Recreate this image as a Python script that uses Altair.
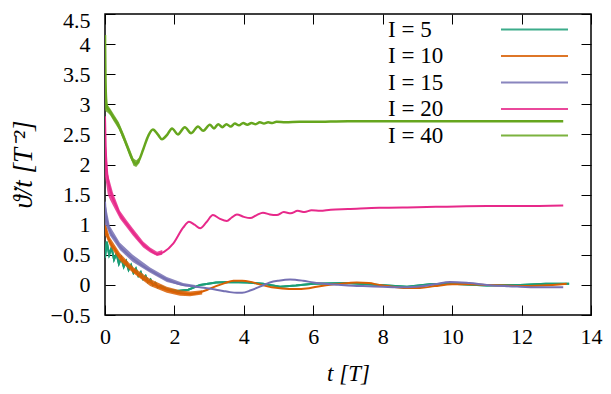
import altair as alt
import pandas as pd

series = ["I = 5", "I = 10", "I = 15", "I = 20", "I = 40"]
colors = ["#1b9e77", "#d95f02", "#7570b3", "#e7298a", "#66a61e"]

x_ticks = [0, 2, 4, 6, 8, 10, 12, 14]
y_ticks = [-0.5, 0, 0.5, 1, 1.5, 2, 2.5, 3, 3.5, 4, 4.5]

# I = 5
t5 = [0.0, 0.05, 0.12, 0.19, 0.26, 0.33, 0.40, 0.47, 0.54, 0.61, 0.68, 0.75, 0.82, 0.89,
      0.96, 1.03, 1.10, 1.17, 1.24, 1.31, 1.38, 1.45, 1.52, 1.6, 1.78, 2.07, 2.4, 2.74,
      3.2, 3.6, 4.1, 4.55, 5.04, 5.5, 6.0, 6.97, 7.9, 8.7, 9.36, 10.0, 11.0, 11.96, 12.7, 13.37]
v5 = [0.45, 0.72, 0.5, 0.62, 0.42, 0.52, 0.35, 0.45, 0.3, 0.39, 0.25, 0.33, 0.2, 0.27,
      0.15, 0.21, 0.1, 0.15, 0.05, 0.09, 0.0, 0.03, -0.04, -0.02, -0.07, -0.1, -0.08, 0.0,
      0.04, 0.05, 0.04, 0.02, -0.03, -0.01, 0.02, 0.03, 0.0, -0.03, 0.01, 0.02, -0.01, 0.0, 0.02, 0.02]

# I = 10
t10 = [0, 0.03, 0.14, 0.3, 0.43, 0.6, 0.8, 1.05, 1.3, 1.55, 1.78, 2.0, 2.2, 2.45, 2.7, 2.95,
       3.2, 3.45, 3.7, 3.95, 4.2, 4.5, 4.8, 5.1, 5.5, 5.8, 6.1, 6.6, 7.0, 7.25, 7.6, 7.9, 8.3,
       8.6, 9.07, 9.5, 10.0, 10.5, 11.0, 11.5, 11.96, 12.6, 13.3]
v10 = [1.0, 0.9, 0.72, 0.58, 0.47, 0.37, 0.25, 0.13, 0.04, -0.03, -0.08, -0.12, -0.14, -0.15,
       -0.13, -0.08, -0.02, 0.03, 0.07, 0.07, 0.05, 0.0, -0.04, -0.06, -0.07, -0.06, -0.03,
       0.01, 0.03, 0.04, 0.03, 0.0, -0.03, -0.05, -0.05, -0.02, 0.01, 0.01, 0.0, -0.01, -0.02,
       -0.01, 0.02]
b10_t = [0.0, 0.03, 0.14, 0.43, 0.8, 1.3, 1.78, 2.16, 2.45, 2.8]
b10_lo = [0.82, 0.8, 0.65, 0.4, 0.2, -0.02, -0.13, -0.18, -0.19, -0.16]
b10_hi = [1.05, 1.0, 0.79, 0.53, 0.3, 0.1, -0.03, -0.09, -0.11, -0.09]

# I = 15
t15 = [0, 0.03, 0.14, 0.3, 0.43, 0.6, 0.8, 1.05, 1.3, 1.55, 1.78, 2.0, 2.25, 2.5, 2.74, 3.0,
       3.2, 3.4, 3.6, 3.8, 3.95, 4.2, 4.5, 4.75, 5.0, 5.33, 5.7, 6.0, 6.48, 7.0, 7.43, 8.0,
       8.4, 8.98, 9.5, 9.94, 10.5, 11.0, 11.5, 11.96, 12.6, 13.2]
v15 = [1.38, 1.15, 0.9, 0.76, 0.64, 0.54, 0.44, 0.33, 0.24, 0.16, 0.09, 0.04, 0.0, -0.02,
       -0.04, -0.06, -0.08, -0.1, -0.12, -0.13, -0.13, -0.09, -0.02, 0.04, 0.07, 0.09, 0.07,
       0.04, 0.01, -0.01, -0.02, -0.03, -0.04, -0.03, 0.01, 0.05, 0.03, 0.0, -0.02, -0.03,
       -0.04, -0.04]
b15_t = [0.0, 0.03, 0.14, 0.43, 0.8, 1.3, 1.78, 2.25, 2.6]
b15_lo = [1.0, 0.98, 0.82, 0.58, 0.38, 0.2, 0.05, -0.02, -0.04]
b15_hi = [1.42, 1.3, 0.98, 0.7, 0.5, 0.29, 0.13, 0.03, 0.0]

# I = 20
t20 = [0, 0.02, 0.05, 0.1, 0.15, 0.23, 0.33, 0.43, 0.63, 0.8, 1.1, 1.3, 1.5, 1.7, 1.97, 2.25,
       2.42, 2.58, 2.74, 2.92, 3.11, 3.3, 3.51, 3.65, 3.8, 4.0, 4.18, 4.37, 4.55, 4.75, 4.95,
       5.15, 5.35, 5.55, 5.75, 5.95, 6.2, 6.5, 7.0, 7.9, 9.0, 9.85, 11.0, 12.0, 13.2]
v20 = [2.8, 2.3, 1.95, 1.7, 1.58, 1.43, 1.3, 1.17, 1.01, 0.88, 0.67, 0.58, 0.51, 0.55, 0.69,
       0.95, 1.05, 1.0, 0.94, 1.04, 1.16, 1.1, 1.06, 1.12, 1.17, 1.13, 1.11, 1.16, 1.2, 1.17,
       1.16, 1.21, 1.19, 1.23, 1.21, 1.24, 1.23, 1.25, 1.26, 1.28, 1.29, 1.3, 1.31, 1.31, 1.32]
b20_t = [0.0, 0.03, 0.08, 0.14, 0.23, 0.43, 0.63, 0.8, 1.1, 1.3, 1.5, 1.65]
b20_lo = [1.8, 1.7, 1.5, 1.42, 1.32, 1.1, 0.95, 0.82, 0.62, 0.54, 0.48, 0.5]
b20_hi = [2.8, 2.3, 1.85, 1.72, 1.53, 1.23, 1.07, 0.94, 0.72, 0.62, 0.55, 0.58]

# I = 40
t40 = [0, 0.01, 0.03, 0.06, 0.12, 0.2, 0.35, 0.5, 0.65, 0.8, 0.88, 0.97, 1.1, 1.25, 1.38,
       1.52, 1.64, 1.8, 1.93, 2.1, 2.3, 2.48, 2.68, 2.83, 3.02, 3.14, 3.26, 3.38, 3.5, 3.62,
       3.74, 3.86, 3.98, 4.1, 4.22, 4.34, 4.46, 4.58, 4.7, 4.82, 4.94, 5.2, 5.6, 6.0, 7.0,
       8.0, 9.0, 10.0, 11.0, 12.0, 13.2]
v40 = [4.15, 3.6, 3.1, 2.95, 2.9, 2.82, 2.69, 2.5, 2.28, 2.07, 2.01, 2.06, 2.25, 2.48, 2.58,
       2.5, 2.42, 2.5, 2.6, 2.5, 2.62, 2.52, 2.63, 2.56, 2.66, 2.6, 2.67, 2.62, 2.67, 2.63,
       2.68, 2.65, 2.69, 2.66, 2.69, 2.67, 2.7, 2.68, 2.7, 2.69, 2.71, 2.7, 2.71, 2.71, 2.72,
       2.72, 2.72, 2.72, 2.72, 2.72, 2.72]
b40_t = [0.0, 0.03, 0.08, 0.15, 0.25, 0.4, 0.55, 0.7, 0.82, 0.9, 1.0]
b40_lo = [2.9, 2.88, 2.86, 2.82, 2.72, 2.58, 2.38, 2.16, 1.98, 1.96, 2.03]
b40_hi = [3.3, 3.05, 2.99, 2.93, 2.84, 2.7, 2.5, 2.28, 2.1, 2.07, 2.12]

lines = {
    "I = 5": (t5, v5),
    "I = 10": (t10, v10),
    "I = 15": (t15, v15),
    "I = 20": (t20, v20),
    "I = 40": (t40, v40),
}
bands = {
    "I = 10": (b10_t, b10_lo, b10_hi),
    "I = 15": (b15_t, b15_lo, b15_hi),
    "I = 20": (b20_t, b20_lo, b20_hi),
    "I = 40": (b40_t, b40_lo, b40_hi),
}

FONT = "Liberation Serif"
x_scale = alt.Scale(domain=[0, 14], nice=False, zero=False)
y_scale = alt.Scale(domain=[-0.5, 4.5], nice=False, zero=False)

color_enc = alt.Color(
    "series:N",
    sort=series,
    scale=alt.Scale(domain=series, range=colors),
    legend=alt.Legend(
        title=None, orient="none", legendX=417, legendY=3, padding=0,
        symbolType="M-3,0H3", symbolSize=499, symbolStrokeWidth=2,
        labelOffset={"expr": "-159"}, labelAlign="left", labelFont=FONT, labelFontSize=23,
        labelColor="black", rowPadding=1.5, labelLimit=0,
    ),
)

axis_common = dict(offset=-10, tickSize=10, domain=False, grid=False, tickColor="black",
                   tickWidth=1, labelFont=FONT, labelFontSize=22, labelColor="black",
                   labelFlush=False, labelOverlap=False)

x_axis_main = alt.Axis(values=x_ticks, orient="bottom", labelPadding=11, format="d",
                       title="t [T]", titleFont=FONT, titleFontSize=23, titleFontWeight="normal",
                       titleFontStyle="italic", titleColor="black", titleX=243, titleY=68,
                       titleAlign="center", titleBaseline="middle", **axis_common)
y_axis_main = alt.Axis(values=y_ticks, orient="left", labelPadding=15, format="~g",
                       labelOffset={"condition": {"test": "datum.value == 4.5", "value": 6},
                                    "value": 0},
                       title="ϑ̇/t [T⁻²]", titleFont=FONT, titleFontSize=27,
                       titleFontWeight="normal", titleFontStyle="italic", titleColor="black",
                       titleX=-92, titleY=150, titleAngle=270, titleAlign="center",
                       titleBaseline="middle", **axis_common)
x_axis_top = alt.Axis(values=x_ticks, orient="top", labels=False, title=None, **axis_common)
y_axis_right = alt.Axis(values=y_ticks, orient="right", labels=False, title=None, **axis_common)

layers = []
first = True
for name in series:
    if name in bands:
        bt, blo, bhi = bands[name]
        bdf = pd.DataFrame({"t": bt, "lo": blo, "hi": bhi, "series": name})
        layers.append(
            alt.Chart(bdf).mark_area(opacity=0.85, clip=True).encode(
                x=alt.X("t:Q", scale=x_scale, axis=None),
                y=alt.Y("lo:Q", scale=y_scale, axis=None),
                y2="hi:Q",
                color=color_enc,
            )
        )
    lt, lv = lines[name]
    ldf = pd.DataFrame({"t": lt, "v": lv, "series": name})
    interp = "linear" if name == "I = 5" else "monotone"
    sw = 2.5 if name == "I = 40" else 2
    if first:
        xa, ya = x_axis_main, y_axis_main
    else:
        xa, ya = None, None
    layers.append(
        alt.Chart(ldf).mark_line(strokeWidth=sw, clip=True, interpolate=interp).encode(
            x=alt.X("t:Q", scale=x_scale, axis=xa),
            y=alt.Y("v:Q", scale=y_scale, axis=ya),
            color=color_enc,
        )
    )
    if first:
        layers.append(
            alt.Chart(ldf).mark_line(strokeWidth=2, clip=True).encode(
                x=alt.X("t:Q", scale=x_scale, axis=x_axis_top),
                y=alt.Y("v:Q", scale=y_scale, axis=y_axis_right),
                color=color_enc,
            )
        )
    first = False

chart = (
    alt.layer(*layers)
    .resolve_axis(x="independent", y="independent")
    .properties(
        width=486, height=301,
        autosize=alt.AutoSizeParams(type="none"),
        padding={"left": 97, "top": 6, "right": 12, "bottom": 71},
        background="white",
    )
    .configure_view(stroke="black", strokeWidth=1.5)
)

chart.save("out.html", embed_options={"renderer": "svg", "actions": False})
